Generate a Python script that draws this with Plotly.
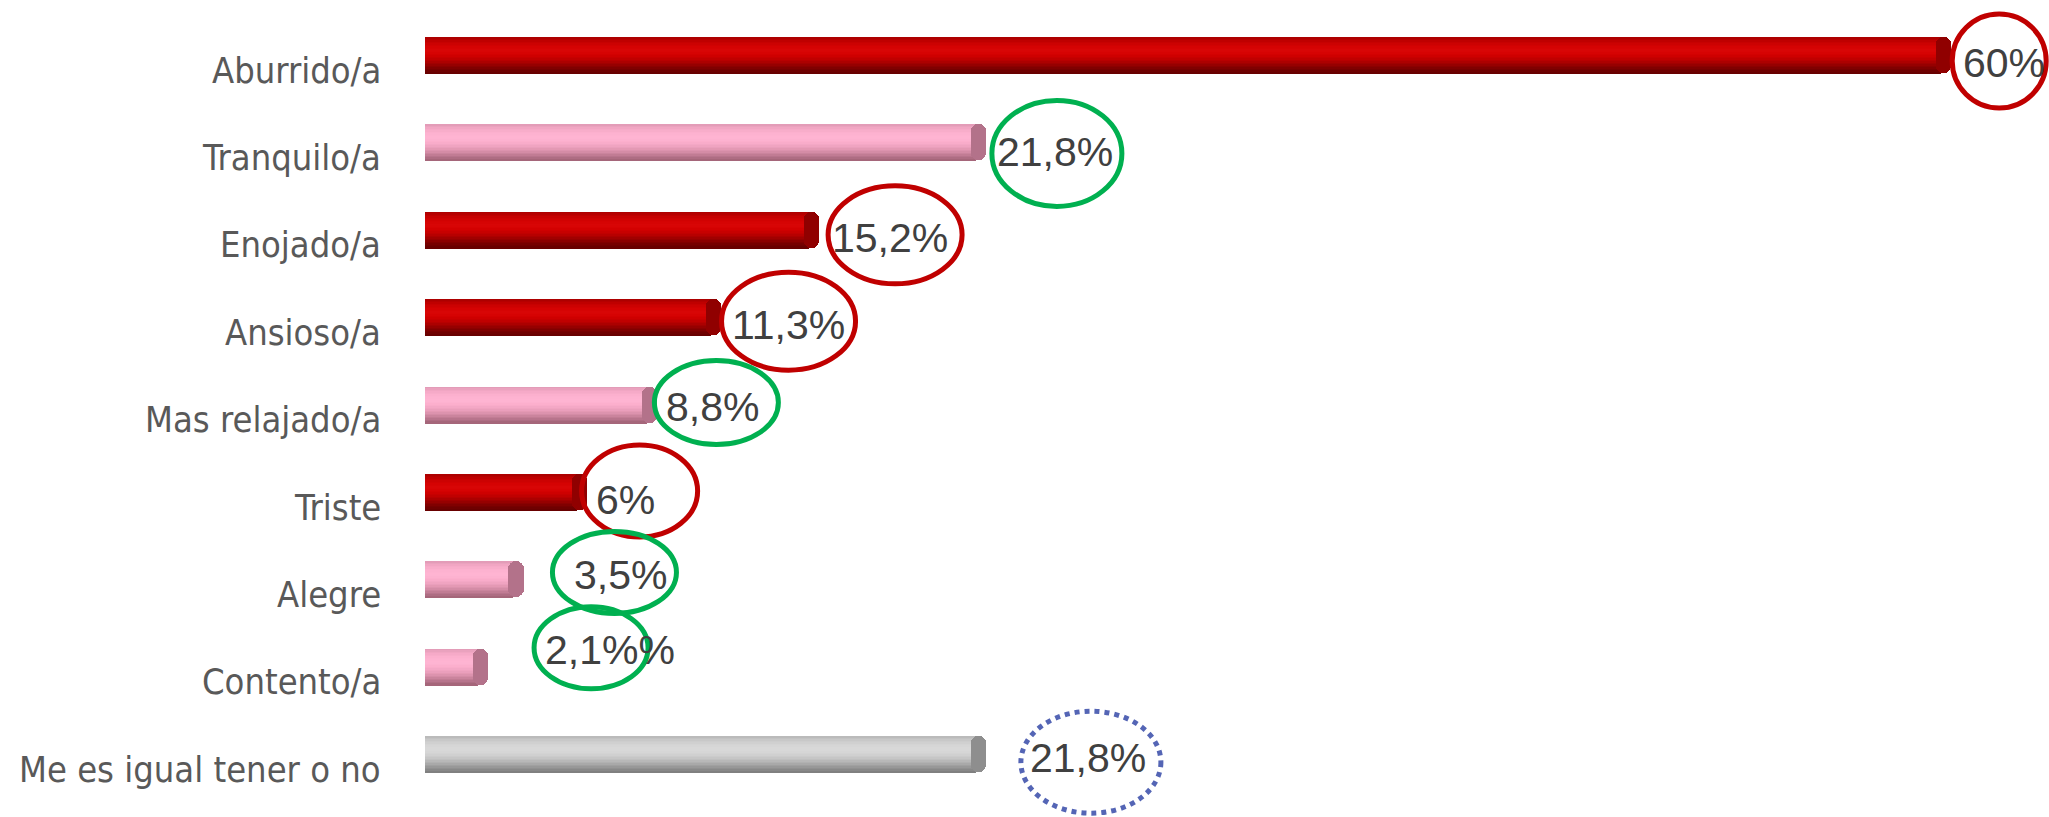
import plotly.graph_objects as go

# ---------------- data ----------------
categories = ["Aburrido/a", "Tranquilo/a", "Enojado/a", "Ansioso/a", "Mas relajado/a",
              "Triste", "Alegre", "Contento/a", "Me es igual tener o no"]
values = [60, 21.8, 15.2, 11.3, 8.8, 6, 3.5, 2.1, 21.8]
value_labels = ["60%", "21,8%", "15,2%", "11,3%", "8,8%", "6%", "3,5%", "2,1%%", "21,8%"]
groups = ["neg", "pos", "neg", "neg", "pos", "neg", "pos", "pos", "neutral"]

# ---------------- styles ----------------
# shading stops of the cylinder, top -> bottom
shade_stops = {
    "neg": ["#A80000", "#C40000", "#D40303", "#D90606", "#D20000", "#BC0000", "#9C0000", "#7A0000", "#640000"],
    "pos": ["#E09AB5", "#F4A9C6", "#FDB1CF", "#FFB5D3", "#FBAECC", "#EEA2BF", "#D990AA", "#BC7890", "#A06276"],
    "neutral": ["#B8B8B8", "#CBCBCB", "#D6D6D6", "#D9D9D9", "#D2D2D2", "#C4C4C4", "#ADADAD", "#949494", "#7C7C7C"],
}
cap_colors = {"neg": "#900000", "pos": "#B3728A", "neutral": "#8E8E8E"}
circle_style = {"neg": ("#C00000", "solid"), "pos": ("#00B050", "solid"), "neutral": ("#5465B5", "dot")}

# pixel nudges for labels / circles (layout only)
label_dx = [63, 79, 81, 78, 65, 49, 107, 132, 112]
label_dy = [8, 10, 8, 8, 2, 8, -4, -17, 4]
circ_dx = [58, 81, 86, 78, 69, 63, 101, 113, 115]
circ_dy = [6, 11, 5, 4, -2, -1, -7, -19, 8]
circ_rx = [47, 65, 67, 67, 62, 58, 62, 57, 70]
circ_ry = [47, 53, 49, 49, 42, 46, 41, 41, 51]

W, H = 2049, 817
left_px = 425
px_per_unit = 25.27
row_px = 87.4
first_row_px = 55

y_pos = list(range(len(categories)))
x_max = (W - left_px) / px_per_unit
y_top = -first_row_px / row_px
y_bot = (len(categories) - 1) + (H - (first_row_px + row_px * (len(categories) - 1))) / row_px


def hex2rgb(h):
    h = h.lstrip("#")
    return [int(h[k:k + 2], 16) for k in (0, 2, 4)]


def shade(stops, t):
    pos = t * (len(stops) - 1)
    k = min(int(pos), len(stops) - 2)
    f = pos - k
    a, b = hex2rgb(stops[k]), hex2rgb(stops[k + 1])
    return "rgb(%d,%d,%d)" % tuple(round(a[j] + (b[j] - a[j]) * f) for j in range(3))


bar_thick = 0.412
n_bands = 24
bh = bar_thick / n_bands

fig = go.Figure()
for i in range(n_bands):
    t = (i + 0.5) / n_bands
    fig.add_trace(go.Bar(
        x=values, y=y_pos, orientation="h", base=0,
        width=bh * 1.6, offset=-bar_thick / 2 + i * bh,
        marker=dict(color=[shade(shade_stops[g], t) for g in groups], line_width=0),
        showlegend=False, hoverinfo="skip",
    ))

# cylinder end caps
cap_len = 0.6
fig.add_trace(go.Bar(
    x=[cap_len] * len(values), y=y_pos, orientation="h",
    base=[v - 0.2 for v in values],
    width=bar_thick, offset=-bar_thick / 2,
    marker=dict(color=[cap_colors[g] for g in groups], line_width=0, cornerradius=8),
    showlegend=False, hoverinfo="skip",
))

# category labels
for i, c in enumerate(categories):
    fig.add_annotation(
        x=0, xref="x", y=y_pos[i], yref="y", text=c, showarrow=False,
        xanchor="right", yanchor="middle", xshift=-42, yshift=-15,
        font=dict(family="DejaVu Sans Condensed, DejaVu Sans", size=36, color="#595959"),
    )

# value labels and circles
for i, v in enumerate(values):
    fig.add_annotation(
        x=v, xref="x", y=y_pos[i], yref="y", text=value_labels[i], showarrow=False,
        xanchor="center", yanchor="middle", xshift=label_dx[i], yshift=-label_dy[i],
        font=dict(family="Liberation Sans, Arial", size=41, color="#404040"),
    )
    col, dash = circle_style[groups[i]]
    fig.add_shape(
        type="circle", xref="x", yref="y",
        xsizemode="pixel", ysizemode="pixel",
        xanchor=v, yanchor=y_pos[i],
        x0=circ_dx[i] - circ_rx[i], x1=circ_dx[i] + circ_rx[i],
        y0=-circ_dy[i] - circ_ry[i], y1=-circ_dy[i] + circ_ry[i],
        line=dict(color=col, width=5, dash=dash),
        layer="above",
    )

fig.update_layout(
    width=W, height=H, autosize=False,
    margin=dict(l=left_px, r=0, t=0, b=0),
    plot_bgcolor="white", paper_bgcolor="white",
    barmode="overlay", bargap=0,
    xaxis=dict(range=[0, x_max], visible=False, fixedrange=True),
    yaxis=dict(range=[y_bot, y_top], visible=False, fixedrange=True),
    showlegend=False,
)

fig.write_html("out.html", config={"displayModeBar": False},
               post_script="document.body.style.margin='0';")
